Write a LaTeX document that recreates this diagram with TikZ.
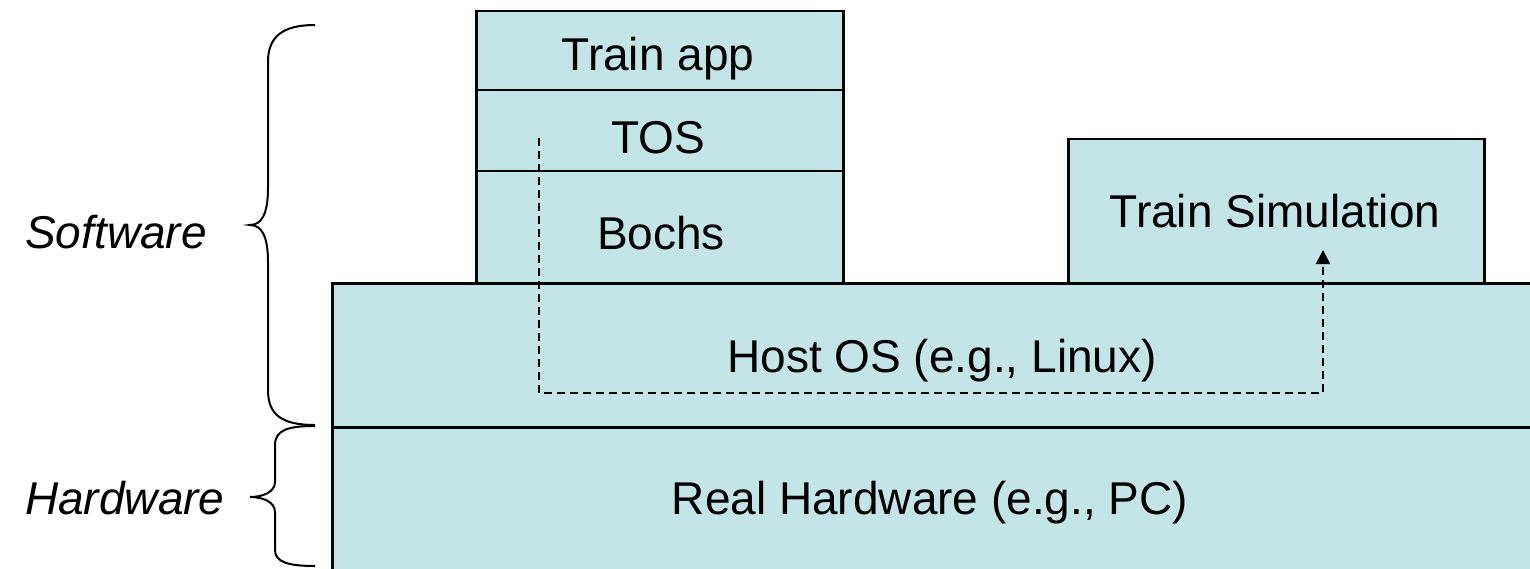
\documentclass[tikz,border=0pt]{standalone}
\usepackage{fontspec}
\setmainfont{Liberation Sans}
\usetikzlibrary{arrows.meta}
\definecolor{boxfill}{RGB}{196,229,232}
\begin{document}
\begin{tikzpicture}[x=1pt,y=-1pt,
  layer/.style={draw=black,line width=2.5pt,fill=boxfill,rectangle,inner sep=0pt,anchor=north west},
  lbl/.style={font=\fontsize{46}{50}\selectfont,anchor=base,inner sep=0pt},
  side/.style={font=\fontsize{46}{50}\selectfont\itshape,anchor=base west,inner sep=0pt},
  brace/.style={draw=black,line width=2pt},
  flow/.style={draw=black,line width=2pt,dash pattern=on 8pt off 5pt,-{Triangle[width=14pt,length=14pt]}}]
\useasboundingbox (0,0) rectangle (1530,569);
\begin{scope}
\clip (0,0) rectangle (1530,569);
% boxes
\node[layer,minimum width=367pt,minimum height=79pt] (app) at (475,10) {};
\node[layer,minimum width=367pt,minimum height=81pt] (tos) at (475,89) {};
\node[layer,minimum width=367pt,minimum height=112pt] (bochs) at (475,170) {};
\node[layer,minimum width=416pt,minimum height=144pt] (sim) at (1067,138) {};
\node[layer,minimum width=1230pt,minimum height=144pt] (host) at (331,282) {};
\node[layer,minimum width=1230pt,minimum height=160pt] (hw) at (331,426) {};
% texts
\node[lbl] (tapp) at (658,71) {Train app};
\node[lbl] (ttos) at (658,154) {TOS};
\node[lbl] (tbochs) at (661,250) {Bochs};
\node[lbl] (tsim) at (1275,228) {Train Simulation};
\node[lbl] (thost) at (942,372) {Host OS (e.g., Linux)};
\node[lbl] (thw) at (930,514) {Real Hardware (e.g., PC)};
% dashed flow
\coordinate (fstart) at (539,138);
\coordinate (fc1) at (539,393);
\coordinate (fc2) at (1323,393);
\coordinate (fend) at (1323,250);
\draw[flow] (fstart) -- (fc1) -- (fc2) -- (fend);
% braces
\draw[brace] (315,25) .. controls (282,25) and (268,37) .. (268,62) -- (268,188)
  .. controls (268,213) and (262,225) .. (250,225)
  .. controls (262,225) and (268,237) .. (268,262) -- (268,390)
  .. controls (268,415) and (282,425) .. (315,425);
\draw[brace] (315,426) .. controls (288,426) and (275,430) .. (275,445) -- (275,482)
  .. controls (275,492) and (263,497) .. (250,497)
  .. controls (263,497) and (275,502) .. (275,512) -- (275,550)
  .. controls (275,562) and (288,566) .. (315,566);
% side labels
\node[side] (sw) at (25,249) {Software};
\node[side] (hwl) at (25,514) {Hardware};
\end{scope}
\end{tikzpicture}
\end{document}
